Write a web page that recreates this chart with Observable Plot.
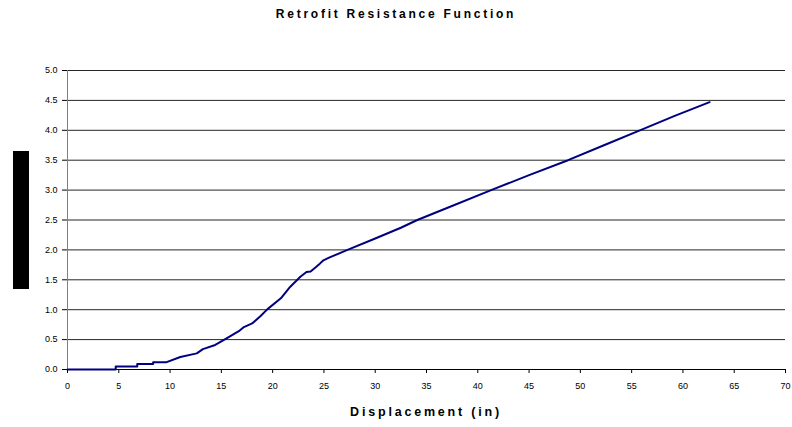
<!DOCTYPE html>
<html>
<head>
<meta charset="utf-8">
<script src="https://cdn.jsdelivr.net/npm/d3@7"></script>
<script src="https://cdn.jsdelivr.net/npm/@observablehq/plot@0.6"></script>
<style>
  html, body { margin: 0; padding: 0; background: #fff; }
  #wrap { position: relative; width: 792px; height: 427px; overflow: hidden; font-family: "Liberation Sans", Arial, sans-serif; }
  #title { position: absolute; left: 0; width: 792px; top: 7px; text-align: center; font-weight: bold; font-size: 12px; letter-spacing: 2.75px; color: #000; }
  #xlabel { position: absolute; left: 67px; width: 718px; top: 405px; text-align: center; font-weight: bold; font-size: 12.5px; letter-spacing: 2.8px; color: #000; }
  #ybox { position: absolute; left: 13px; top: 151px; width: 16px; height: 138px; background: #000; }
</style>
</head>
<body>
<div id="wrap">
  <div id="title">Retrofit Resistance Function</div>
  <div id="ybox"></div>
  <div id="xlabel">Displacement (in)</div>
</div>
<script>
const displacement = [0, 4.7, 4.7, 6.8, 6.8, 8.35, 8.35, 9.6, 11.0, 12.6, 13.2, 14.4, 15.3, 16.7, 17.2, 18.0, 18.8, 19.5, 20.8, 21.7, 22.7, 23.3, 23.7, 24.2, 24.6, 24.9, 25.5, 27.3, 30.0, 32.5, 34.1, 37.0, 41.3, 45.0, 48.8, 52.3, 55.8, 59.2, 62.6];
const resistance   = [0, 0,   0.05, 0.05, 0.09, 0.09, 0.12, 0.12, 0.21, 0.27, 0.34, 0.41, 0.50, 0.64, 0.71, 0.77, 0.89, 1.01, 1.19, 1.38, 1.55, 1.63, 1.64, 1.71, 1.77, 1.82, 1.87, 2.00, 2.19, 2.37, 2.50, 2.70, 3.00, 3.25, 3.50, 3.75, 4.00, 4.24, 4.47];
const xTicks = [0, 5, 10, 15, 20, 25, 30, 35, 40, 45, 50, 55, 60, 65, 70];
const yTicks = [0, 0.5, 1.0, 1.5, 2.0, 2.5, 3.0, 3.5, 4.0, 4.5, 5.0];

const data = displacement.map((x, i) => ({x, y: resistance[i]}));

const chart = Plot.plot({
  width: 792,
  height: 427,
  marginLeft: 67,
  marginRight: 7,
  marginTop: 70,
  marginBottom: 58,
  style: { fontFamily: "Liberation Sans, Arial, sans-serif", fontSize: "9px", color: "#000", background: "transparent" },
  x: { domain: [0, 70] },
  y: { domain: [0, 5] },
  marks: [
    Plot.ruleY(yTicks.filter(d => d > 0), { stroke: "#000", strokeWidth: 1, strokeOpacity: 0.85 }),
    Plot.ruleX([0], { stroke: "#808080", strokeWidth: 1 }),
    Plot.ruleY([0], { stroke: "#000", strokeWidth: 1 }),
    Plot.axisX({ ticks: xTicks, tickSize: 4, tickPadding: 9, fontSize: 9, label: null, stroke: "#000" }),
    Plot.axisY({ ticks: yTicks, tickSize: 5, tickPadding: 5, fontSize: 9, label: null, tickFormat: d3.format(".1f"), stroke: "#000" }),
    Plot.line(data, { x: "x", y: "y", stroke: "#000080", strokeWidth: 2, curve: "linear" })
  ]
});
document.getElementById("wrap").prepend(chart);
chart.style.position = "absolute";
chart.style.left = "0";
chart.style.top = "0";
</script>
</body>
</html>
